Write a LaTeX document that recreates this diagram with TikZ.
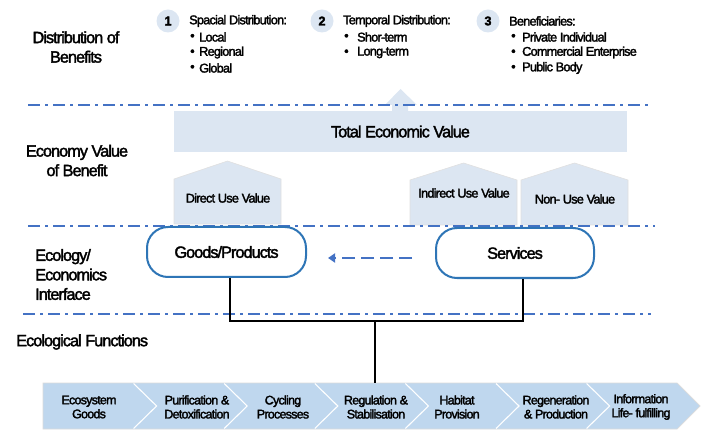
\documentclass[tikz,border=0pt]{standalone}
\usepackage{fontspec}
\setmainfont[LetterSpace=-6,FakeBold=2.2]{Liberation Sans}
\usetikzlibrary{arrows.meta}
\definecolor{lb}{HTML}{DCE6F2}
\definecolor{stripc}{HTML}{BFD7EE}
\definecolor{dd}{HTML}{4472C4}
\definecolor{rb}{HTML}{2E75B6}
\begin{document}
\begin{tikzpicture}[x=1pt,y=-1pt,
  big/.style={font=\fontsize{16.3}{19.5}\selectfont, inner sep=0pt, text=black},
  small/.style={font=\fontsize{12.7}{15}\selectfont, inner sep=0pt, text=black},
  chev/.style={font=\fontsize{12.5}{14}\selectfont, inner sep=0pt, align=center, text=black},
  sepline/.style={dd, line width=2.8pt, dash pattern=on 12pt off 5pt on 3pt off 5pt},
  num/.style={circle, fill=lb, minimum size=23pt, inner sep=0pt, font=\fontsize{12.7}{15}\selectfont\bfseries},
  pill/.style={draw=rb, line width=2pt, fill=white, rounded corners=21pt, minimum height=50pt, font=\fontsize{16.3}{19.5}\selectfont, text=black},
  value/.style={fill=lb, draw=black!12, line width=0.6pt},
  conn/.style={black, line width=1.6pt},
  flow/.style={dd, line width=2.2pt, dash pattern=on 13pt off 6pt, -{Triangle[length=7pt,width=9pt]}}
]
\useasboundingbox (0,0) rectangle (701,430);

% ---------- top arrow and Total Economic Value ----------
\fill[lb] (392,112) -- (392,105) -- (385,105) -- (400.5,89) -- (417,105) -- (408,105) -- (408,112) -- cycle;
\node[fill=lb, minimum width=453pt, minimum height=41pt, inner sep=0pt] (tev) at (400.5,131.5) {};
\node[big] (tevt) at (tev.center) {Total Economic Value};

% ---------- value pentagons ----------
\filldraw[value] (174,224) -- (174,179) -- (227.5,161) -- (281,179) -- (281,224) -- cycle;
\filldraw[value] (410,225) -- (410,180) -- (463.5,163) -- (517,180) -- (517,225) -- cycle;
\filldraw[value] (521,225) -- (521,180) -- (574.5,163) -- (628,180) -- (628,225) -- cycle;
\node[small] (duv) at (228,198) {Direct Use Value};
\node[small] (iuv) at (464,193) {Indirect Use Value};
\node[small] (nuv) at (575,199) {Non- Use Value};

% ---------- dash-dot separators ----------
\draw[sepline] (28,105) -- (652,105);
\draw[sepline] (28,226) -- (655,226);
\draw[sepline] (23,314) -- (651,314);

% ---------- left labels ----------
\node[big, align=center] (dob) at (76,47) {Distribution of\\Benefits};
\node[big, align=center] (evb) at (77,160.5) {Economy Value\\of Benefit};
\node[big, align=left, anchor=west] (eei) at (35,274.5) {Ecology/\\Economics\\Interface};
\node[big, anchor=west] (ecf) at (16,342) {Ecological Functions};

% ---------- distribution of benefits ----------
\node[num] (n1) at (168,21) {1};
\node[num] (n2) at (322,21) {2};
\node[num] (n3) at (488,21) {3};
\node[small, anchor=west] (h1) at (189,21) {Spacial Distribution:};
\node[small, anchor=west] (b11) at (190,37) {\textbullet};
\node[small, anchor=west] (t11) at (199,37) {Local};
\node[small, anchor=west] (b12) at (190,52.5) {\textbullet};
\node[small, anchor=west] (t12) at (199,52.5) {Regional};
\node[small, anchor=west] (b13) at (190,68) {\textbullet};
\node[small, anchor=west] (t13) at (199,68) {Global};

\node[small, anchor=west] (h2) at (343,21) {Temporal Distribution:};
\node[small, anchor=west] (b21) at (344,37) {\textbullet};
\node[small, anchor=west] (t21) at (357,37) {Shor-term};
\node[small, anchor=west] (b22) at (344,52.5) {\textbullet};
\node[small, anchor=west] (t22) at (357,52.5) {Long-term};

\node[small, anchor=west] (h3) at (509,21) {Beneficiaries:};
\node[small, anchor=west] (b31) at (511,37) {\textbullet};
\node[small, anchor=west] (t31) at (522,37) {Private Individual};
\node[small, anchor=west] (b32) at (511,52.5) {\textbullet};
\node[small, anchor=west] (t32) at (522,52.5) {Commercial Enterprise};
\node[small, anchor=west] (b33) at (511,68) {\textbullet};
\node[small, anchor=west] (t33) at (522,68) {Public Body};

% ---------- interface boxes ----------
\node[pill, minimum width=159pt] (goods) at (226.5,252) {Goods/Products};
\node[pill, minimum width=158pt] (services) at (515,253) {Services};
\coordinate (af) at ([yshift=-5pt]services.west);
\draw[flow, shorten <=23pt, shorten >=21pt] (af) -- (af -| goods.east);

% ---------- chevron strip ----------
\node[inner sep=0pt, minimum width=657pt, minimum height=46pt] (strip) at (371.5,406) {};
\fill[stripc] (43,383) -- (677,383) -- (700,406) -- (677,429) -- (43,429) -- cycle;
\draw[black!14, line width=0.7pt] (43,383) -- (677,383) -- (700,406) -- (677,429) -- (43,429) -- cycle;
\foreach \i in {1,...,6} {
  \pgfmathsetmacro\xa{43+\i*90.6}
  \draw[white, line width=1.1pt] (\xa,383.5) -- (\xa+23,406) -- (\xa,428.5);
}
\node[chev] (c1) at (89,407) {Ecosystem\\Goods};
\node[chev] (c2) at (197,407) {Purification \&\\Detoxification};
\node[chev] (c3) at (283,407) {Cycling\\Processes};
\node[chev] (c4) at (376,407) {Regulation \&\\Stabilisation};
\node[chev] (c5) at (457,407) {Habitat\\Provision};
\node[chev] (c6) at (556,407) {Regeneration\\\& Production};
\node[chev] (c7) at (641,407) {Information\\Life- fulfilling};

% ---------- connectors ----------
\coordinate (j) at (375,321);
\draw[conn] ([xshift=3.5pt]goods.south) |- (j) -| ([xshift=8pt]services.south);
\draw[conn] (j) -- (j |- strip.north);
\end{tikzpicture}
\end{document}
